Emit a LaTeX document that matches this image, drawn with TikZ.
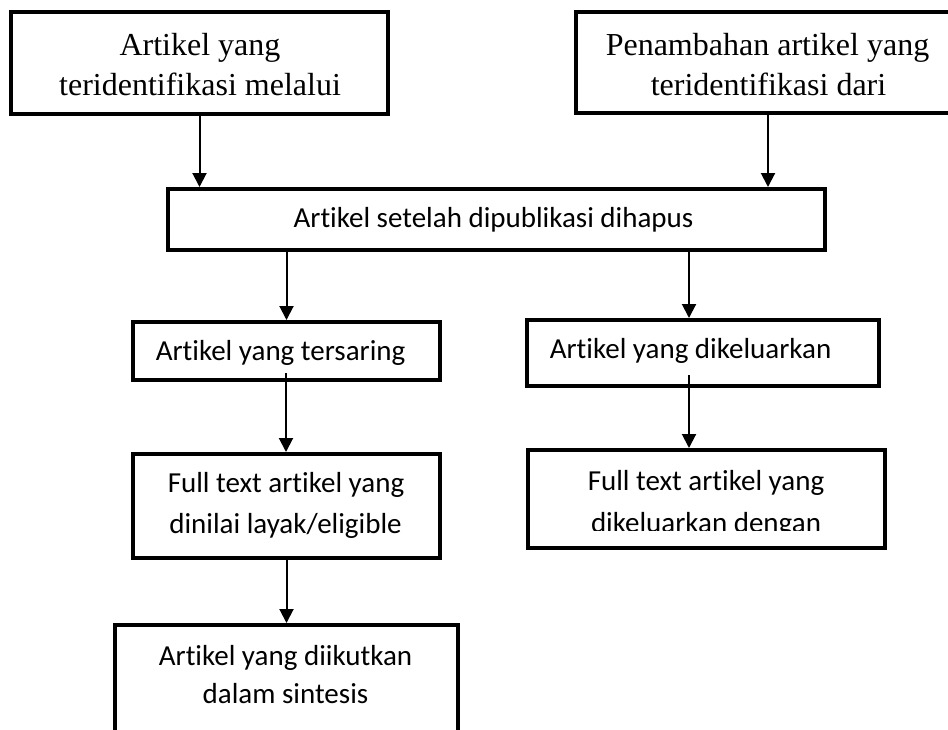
\documentclass[tikz,border=0pt]{standalone}
\usepackage{fontspec}
\setmainfont{Liberation Serif}
\newfontfamily\carlitofont[Ligatures={NoCommon,NoRare}]{Carlito}
\usetikzlibrary{arrows.meta}
\tikzset{
  box/.style={draw=black, line width=4pt, rectangle, inner sep=0pt, fill=white},
  serift/.style={anchor=base, inner sep=0pt, font=\fontsize{32}{38}\selectfont},
  sanst/.style={anchor=base, inner sep=0pt, font=\carlitofont\fontsize{29}{35}\selectfont},
  arr/.style={line width=2pt, -{Triangle[length=14pt,width=14pt]}}
}
\begin{document}
\begin{tikzpicture}[x=1pt,y=-1pt]
\clip (0,0) rectangle (948,729);
\fill[white] (0,0) rectangle (948,729);
% boxes
\node[box, minimum width=377pt, minimum height=102pt] (b1) at (199.5,63) {};
\node[box, minimum width=386pt, minimum height=101pt] (b2) at (769,62.5) {};
\node[box, minimum width=657pt, minimum height=61pt] (mid) at (496.5,219.5) {};
\node[box, minimum width=307pt, minimum height=58pt] (b4) at (286.5,351) {};
\node[box, minimum width=352pt, minimum height=66pt] (b5) at (703,353) {};
\node[box, minimum width=307pt, minimum height=104pt] (b6) at (286.5,506) {};
\node[box, minimum width=357pt, minimum height=98pt] (b7) at (706.5,499) {};
\node[box, minimum width=343pt, minimum height=175pt] (b8) at (286.5,712.5) {};
% texts
\node[serift] (t1a) at (200,55) {Artikel yang};
\node[serift] (t1b) at (200,95) {teridentifikasi melalui};
\node[serift] (t2a) at (767.5,55) {Penambahan artikel yang};
\node[serift] (t2b) at (768.5,95) {teridentifikasi dari};
\node[sanst] (tm) at (493.5,227) {Artikel setelah dipublikasi dihapus};
\node[sanst] (t4) at (280.5,360) {Artikel yang tersaring};
\node[sanst] (t5) at (690.5,358) {Artikel yang dikeluarkan};
\node[sanst] (t6a) at (286,492) {Full text artikel yang};
\node[sanst] (t6b) at (285.5,533) {dinilai layak/eligible};
\node[sanst] (t7a) at (706,490) {Full text artikel yang};
\begin{scope}
\clip (520,500) rectangle (900,530);
\node[sanst] (t7b) at (706,532) {dikeluarkan dengan};
\end{scope}
\node[sanst] (t8a) at (285.5,665) {Artikel yang diikutkan};
\node[sanst] (t8b) at (285.5,703) {dalam sintesis};
% arrows
\coordinate (c2) at (768,0);
\coordinate (c5) at (689,0);
\coordinate (s4) at (286,373);
\coordinate (s5) at (689,375);
\draw[arr] (b1.south) -- (b1.south |- mid.north);
\draw[arr] (c2 |- b2.south) -- (c2 |- mid.north);
\draw[arr] (mid.south -| b4.north) -- (b4.north);
\draw[arr] (c5 |- mid.south) -- (c5 |- b5.north);
\draw[arr] (s4) -- (s4 |- b6.north);
\draw[arr] (s5) -- (s5 |- b7.north);
\draw[arr] (b6.south) -- (b6.south |- b8.north);
\end{tikzpicture}
\end{document}
